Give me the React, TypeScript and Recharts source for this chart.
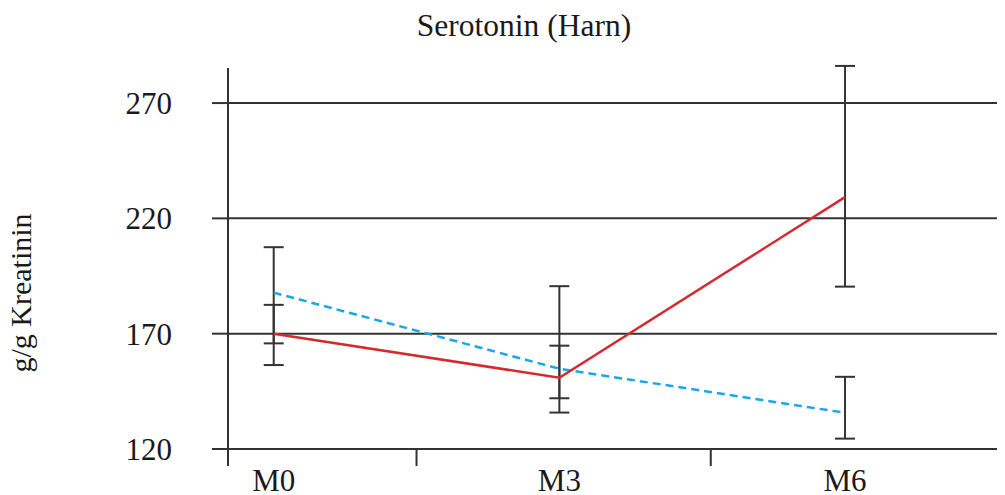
import React from "react";
import { LineChart, Line, XAxis, YAxis, CartesianGrid, ErrorBar, Label } from "recharts";

const months = ["M0", "M3", "M6"];
const redMean = [170, 150.9, 229.2];
const redLow = [165.8, 142.0, 190.4];
const redHigh = [182.5, 164.8, 286.1];
const blueMean = [187.8, 154.8, 135.7];
const blueLow = [156.4, 135.8, 124.5];
const blueHigh = [207.5, 190.6, 151.3];
const yTicks = [120, 170, 220, 270];
// category positions plus the divider marks between them
const xTicks = [-0.16, 0, 0.5, 1, 1.53, 2];

const FONT = '"Liberation Serif", "Times New Roman", serif';
const INK = "#333333";
const TEXT = "#1a1a1a";

const data = months.map((m, i) => ({
  x: i,
  month: m,
  red: redMean[i],
  redErr: [redMean[i] - redLow[i], redHigh[i] - redMean[i]],
  blue: blueMean[i],
  blueErr: [blueMean[i] - blueLow[i], blueHigh[i] - blueMean[i]],
}));

const tickStyle = { fontFamily: FONT, fontSize: 31, fill: TEXT };

function XTick(props: any) {
  const { x, y, payload } = props;
  const v = payload.value as number;
  if (Number.isInteger(v)) {
    return (
      <text x={x} y={y + 20} dy="0.71em" textAnchor="middle" style={tickStyle}>
        {months[v]}
      </text>
    );
  }
  return <line x1={x} x2={x} y1={y} y2={y + 17} stroke={INK} strokeWidth={2} />;
}

export default function App() {
  return (
    <div style={{ position: "relative", width: 997, height: 487 }}>
      <div
        style={{
          position: "absolute",
          top: 2,
          left: 516,
          transform: "translateX(-50%)",
          fontFamily: FONT,
          fontSize: 31.5,
          lineHeight: "31px",
          color: TEXT,
          whiteSpace: "nowrap",
        }}
      >
        Serotonin (Harn)
      </div>
      <LineChart
        width={997}
        height={487}
        data={data}
        margin={{ top: 60, right: 0, bottom: 0, left: 0 }}
      >
        <CartesianGrid
          vertical={false}
          horizontalValues={yTicks}
          stroke={INK}
          strokeWidth={2}
        />
        <XAxis
          type="number"
          dataKey="x"
          domain={[-0.16, 2.56]}
          allowDataOverflow
          ticks={xTicks}
          interval={0}
          tickLine={false}
          axisLine={{ stroke: INK, strokeWidth: 2 }}
          height={46}
          tickSize={0}
          tickMargin={0}
          tick={<XTick />}
        />
        <YAxis
          type="number"
          domain={[120, 285.2]}
          allowDataOverflow
          ticks={yTicks}
          interval={0}
          width={220}
          tickSize={16}
          tickMargin={40}
          tickLine={{ stroke: INK, strokeWidth: 2 }}
          axisLine={{ stroke: INK, strokeWidth: 2 }}
          tick={tickStyle}
        >
          <Label
            content={() => (
              <text
                x={23}
                y={285}
                textAnchor="middle"
                transform="rotate(-90, 23, 285)"
                style={{ fontFamily: FONT, fontSize: 30, fill: TEXT }}
              >
                g/g Kreatinin
              </text>
            )}
          />
        </YAxis>
        <Line
          dataKey="blue"
          stroke="#1aa7e8"
          strokeWidth={2.5}
          strokeDasharray="8 5"
          dot={false}
          isAnimationActive={false}
        >
          <ErrorBar dataKey="blueErr" width={10} stroke={INK} strokeWidth={2} />
        </Line>
        <Line
          dataKey="red"
          stroke="#d42a2e"
          strokeWidth={2.5}
          dot={false}
          isAnimationActive={false}
        >
          <ErrorBar dataKey="redErr" width={10} stroke={INK} strokeWidth={2} />
        </Line>
      </LineChart>
    </div>
  );
}
